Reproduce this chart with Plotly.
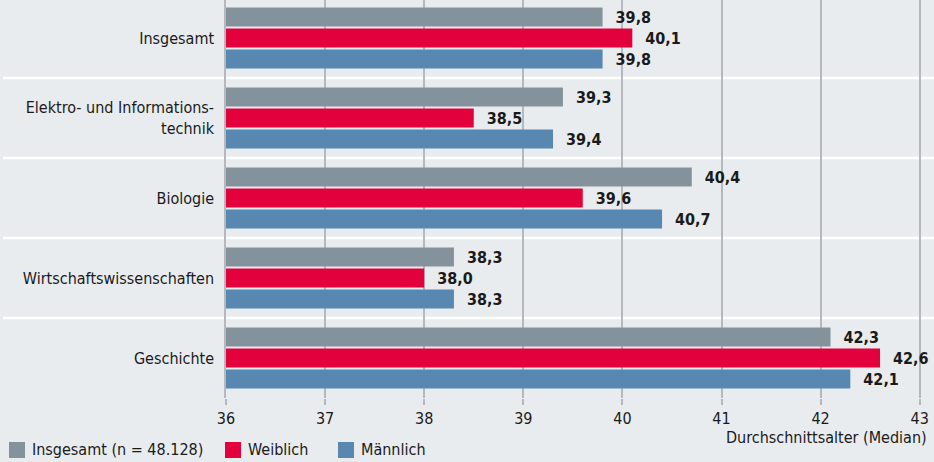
import plotly.graph_objects as go

categories = ["Insgesamt", "Elektro- und Informations-<br>technik", "Biologie",
              "Wirtschaftswissenschaften", "Geschichte"]
series_names = ["Insgesamt (n = 48.128)", "Weiblich", "Männlich"]
# bar lengths as drawn
insgesamt_vals = [39.8, 39.4, 40.7, 38.3, 42.1]
weiblich_vals = [40.1, 38.5, 39.6, 38.0, 42.6]
maennlich_vals = [39.8, 39.3, 40.4, 38.3, 42.3]
# value labels as printed
insgesamt_lbl = ["39,8", "39,3", "40,4", "38,3", "42,3"]
weiblich_lbl = ["40,1", "38,5", "39,6", "38,0", "42,6"]
maennlich_lbl = ["39,8", "39,4", "40,7", "38,3", "42,1"]
x_ticks = [36, 37, 38, 39, 40, 41, 42, 43]
x_title = "Durchschnittsalter (Median)"

colors = ["#84939b", "#e2003d", "#5888b1"]
BG = "#e9ecef"
GRID = "#b5b9bd"
FONT = "DejaVu Sans Condensed, Liberation Sans Narrow, sans-serif"
TXT = "#1a1a1a"
FS = 16

W, H = 934, 462
ML, MR, MT, MB = 226, 0, 0, 64
pw, ph = W - ML - MR, H - MT - MB

ypos = list(range(len(categories)))
fig = go.Figure()
for name, vals, lbls, col in zip(series_names,
                                 [insgesamt_vals, weiblich_vals, maennlich_vals],
                                 [insgesamt_lbl, weiblich_lbl, maennlich_lbl],
                                 colors):
    fig.add_trace(go.Bar(
        y=ypos, x=[v - 36 for v in vals], base=36, orientation="h", name=name,
        marker=dict(color=col, line=dict(width=0)),
        text=["  " + t for t in lbls], textposition="outside",
        textfont=dict(family=FONT, size=FS, color=TXT, weight="bold"),
        cliponaxis=False, showlegend=False, hoverinfo="skip"))

fig.update_layout(
    width=W, height=H, margin=dict(l=ML, r=MR, t=MT, b=MB, autoexpand=False),
    paper_bgcolor=BG, plot_bgcolor="rgba(0,0,0,0)",
    barmode="group", bargap=17 / 80, bargroupgap=2 / 21,
    font=dict(family=FONT, size=FS, color=TXT),
    xaxis=dict(range=[36, 36 + pw / 99.1], tickvals=x_ticks, ticktext=[str(t) for t in x_ticks],
               showgrid=True, gridcolor=GRID, gridwidth=1.5, zeroline=False,
               ticks="outside", ticklen=6, tickwidth=1.5, tickcolor=GRID,
               tickfont=dict(size=FS, color=TXT), showline=False, automargin=False),
    yaxis=dict(range=[4.5, -0.475], tickvals=ypos, ticktext=categories,
               showgrid=False, zeroline=False, ticks="", ticklabelstandoff=7,
               showline=True, linecolor=GRID, linewidth=1.5, automargin=False,
               tickfont=dict(size=FS, color=TXT)),
)

for i in range(len(categories) - 1):
    fig.add_shape(type="line", xref="paper", yref="y",
                  x0=(3 - ML) / pw, x1=1, y0=i + 0.5, y1=i + 0.5,
                  line=dict(color="white", width=2.5), layer="between")

def px_x(p):
    return (p - ML) / pw

def px_y(p):
    return (MT + ph - p) / ph

fig.add_annotation(text=x_title, xref="paper", yref="paper", x=px_x(929), y=px_y(437),
                   xanchor="right", yanchor="middle", showarrow=False,
                   font=dict(size=FS, color=TXT))

legend_x = [9, 225, 338]
for name, col, lx in zip(series_names, colors, legend_x):
    fig.add_shape(type="rect", xref="paper", yref="paper",
                  x0=px_x(lx), x1=px_x(lx + 16), y0=px_y(442), y1=px_y(458),
                  fillcolor=col, line=dict(width=0))
    fig.add_annotation(text=name, xref="paper", yref="paper", x=px_x(lx + 21), y=px_y(450),
                       xanchor="left", yanchor="middle", showarrow=False,
                       font=dict(size=FS, color=TXT))

fig.write_html("out.html", config={"displayModeBar": False},
               post_script="document.body.style.margin='0';document.body.style.overflow='hidden';")
